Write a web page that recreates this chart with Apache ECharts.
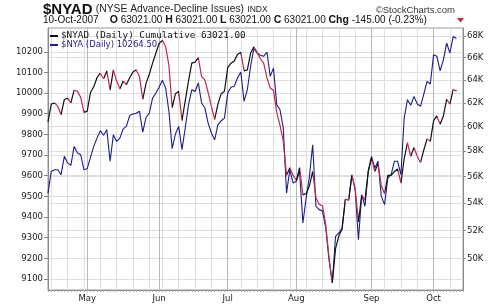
<!DOCTYPE html>
<html><head><meta charset="utf-8">
<script src="https://cdn.jsdelivr.net/npm/echarts@6/dist/echarts.min.js"></script>
<style>html,body{margin:0;padding:0;background:#fff}#c{width:500px;height:306px}</style>
</head><body><div id="c"></div>
<script>
// ---- data ----
const startDate = '2007-04-13';
const endDate = '2007-10-10';
const holidays = ['2007-05-28', '2007-07-04', '2007-09-03'];
const padDays = 2;
const monthNames = ['Jan','Feb','Mar','Apr','May','Jun','Jul','Aug','Sep','Oct','Nov','Dec'];

// $NYAD (Daily) Cumulative  (right axis, log)
const nyad = [
 60400,61900,62000,61700,61000,62300,62400,62000,63100,63000,
 62500,61200,61300,62900,63400,64200,64600,64100,64800,63100,
 64900,63900,63200,63900,63600,64200,64700,64900,64300,62300,
 63700,64500,65500,66400,67300,67600,67000,65300,61600,62800,
 63000,60500,62200,63900,65500,65600,66000,64300,64000,62900,
 61700,60600,61900,62800,63000,65100,65500,65700,66300,66500,
 64800,64900,66400,67000,66500,65900,65500,64200,63300,63100,
 61200,60100,58800,56100,56700,56100,55700,56700,54600,54700,
 55300,56400,54400,53900,53800,52400,50050,48350,50700,51600,
 52100,54300,54200,56100,55100,52600,54600,54200,56400,57500,
 56400,57000,55300,54700,56100,56100,56400,56600,55500,57400,
 58700,57600,58300,57600,57100,58100,59000,58800,60500,60900,
 60200,60900,62300,61900,63166,63021
];
// $NYA (Daily)  (left axis)
const nya = [
 9516,9621,9629,9629,9605,9694,9662,9650,9742,9710,
 9702,9629,9634,9689,9742,9782,9818,9796,9823,9670,
 9798,9766,9782,9827,9839,9892,9899,9902,9912,9811,
 9883,9903,9976,10000,10028,10062,10024,9912,9731,9802,
 9839,9726,9831,9944,10016,10008,10049,9952,9928,9855,
 9807,9774,9847,9866,9879,10000,10028,10033,10073,10102,
 9960,10016,10129,10215,10194,10183,10178,10199,10081,10121,
 9944,9919,9831,9516,9629,9565,9573,9621,9371,9492,
 9597,9750,9452,9436,9430,9347,9194,9081,9307,9323,
 9347,9484,9484,9605,9532,9290,9508,9452,9621,9694,
 9637,9670,9500,9460,9589,9605,9670,9670,9605,9879,
 9968,9941,9984,9947,9936,9995,10057,10044,10186,10178,
 10108,10161,10242,10194,10274,10264.5
];
const leftTicks = [9100,9200,9300,9400,9500,9600,9700,9800,9900,10000,10100,10200];
const rightTicks = [50000,52000,54000,56000,58000,60000,62000,64000,66000,68000];

// ---- trading-day categories ----
function tradingDays(){
  const out = [];
  const d = new Date(startDate + 'T00:00:00Z');
  const end = new Date(endDate + 'T00:00:00Z');
  while (d <= end) {
    const dow = d.getUTCDay();
    const s = d.toISOString().slice(0,10);
    if (dow !== 0 && dow !== 6 && holidays.indexOf(s) < 0) out.push(s);
    d.setUTCDate(d.getUTCDate() + 1);
  }
  return out;
}
const days = tradingDays();
const cats = days.concat(Array(padDays).fill(''));
function isMonthStart(i){
  if (i <= 0 || i >= days.length) return false;
  return days[i].slice(5,7) !== days[i-1].slice(5,7);
}
function isWeekStart(i){
  if (i <= 0 || i >= days.length) return false;
  const a = new Date(days[i] + 'T00:00:00Z').getUTCDay();
  const b = new Date(days[i-1] + 'T00:00:00Z').getUTCDay();
  return a < b;
}

// colour pieces for NYAD: black up, red down
const pieces = [];
for (let i = 0; i < nyad.length - 1; i++) {
  const col = nyad[i+1] < nyad[i] ? '#c0284a' : '#111111';
  const last = pieces[pieces.length-1];
  if (last && last.color === col) last.lt = i + 1;
  else pieces.push({gte: i, lt: i + 1, color: col});
}

const chart = echarts.init(document.getElementById('c'), null, {renderer:'canvas'});
const FONT = 'DejaVu Sans';
chart.setOption({
  animation: false,
  backgroundColor: '#fff',
  grid: {left: 48, right: 37, top: 28, bottom: 16, show: true, borderColor: '#9a9a9a', borderWidth: 1},
  xAxis: [{
    type: 'category', data: cats, boundaryGap: false,
    axisLine: {show: true, lineStyle: {color: '#8a8a8a'}},
    axisTick: {show: true, interval: 0, length: 2, lineStyle: {color: '#aaa'}},
    axisLabel: {interval: (i) => isMonthStart(i), formatter: (v) => v ? monthNames[+v.slice(5,7)-1] : '',
      fontSize: 8.5, fontFamily: FONT, color: '#222', margin: 4},
    splitLine: {show: true, interval: (i) => isWeekStart(i) && !isMonthStart(i), lineStyle: {color: '#dedede', width: 1}}
  }, {
    type: 'category', data: cats, boundaryGap: false, position: 'top',
    axisLine: {show: false}, axisTick: {show: false}, axisLabel: {show: false},
    splitLine: {show: true, interval: (i) => isMonthStart(i), lineStyle: {color: '#b8b8b8', width: 1}}
  }],
  yAxis: [{
    type: 'value', position: 'left', min: 9047, max: 10315, scale: true,
    axisLine: {show: true, lineStyle: {color: '#8a8a8a'}},
    axisTick: {show: true, length: 4, customValues: leftTicks, lineStyle: {color: '#888'}},
    axisLabel: {customValues: leftTicks, formatter: (v) => String(Math.round(v)), fontSize: 8.5, fontFamily: FONT, color: '#222', margin: 5},
    splitLine: {show: true, lineStyle: {color: '#dedede'}}
  }, {
    type: 'log', logBase: 10, position: 'right', min: 47887, max: 68760,
    axisLine: {show: true, lineStyle: {color: '#8a8a8a'}},
    axisTick: {show: true, length: 3, customValues: rightTicks, lineStyle: {color: '#888'}},
    axisLabel: {customValues: rightTicks, formatter: (v) => Math.round(v/1000) + 'K',
      fontSize: 8.5, fontFamily: FONT, color: '#222', margin: 4},
    splitLine: {show: true, lineStyle: {color: '#dedede'}}
  }],
  visualMap: {type: 'piecewise', show: false, seriesIndex: 0, dimension: 0, pieces: pieces, outOfRange: {color: '#111'}},
  series: [{
    name: '$NYAD', type: 'line', xAxisIndex: 0, yAxisIndex: 1, data: nyad.concat(Array(padDays).fill(null)),
    showSymbol: false, symbol: 'none', lineStyle: {width: 1.2}, z: 4
  }, {
    name: '$NYA', type: 'line', xAxisIndex: 0, yAxisIndex: 0, data: nya.concat(Array(padDays).fill(null)),
    showSymbol: false, symbol: 'none', itemStyle: {color: '#1c1c8c'}, lineStyle: {width: 1.1, color: '#1c1c8c'}, z: 3
  }],
  graphic: [
    {type: 'text', left: 43, top: 2, z: 10, style: {
      text: '{a|$NYAD} {b|(NYSE Advance-Decline Issues)} {c|INDX}',
      rich: {
        a: {fontFamily: 'Liberation Sans', fontWeight: 'bold', fontSize: 15, fill: '#111'},
        b: {fontFamily: 'Liberation Sans', fontSize: 10.3, fill: '#222'},
        c: {fontFamily: 'Liberation Sans', fontSize: 8.5, fill: '#222'}
      }}},
    {type: 'text', right: 45, top: 5, z: 10, style: {text: '©StockCharts.com', fontFamily: 'Liberation Sans', fontSize: 9.5, fill: '#333'}},
    {type: 'text', left: 43, top: 15, z: 10, style: {
      text: '10-Oct-2007    {b|O} 63021.00 {b|H} 63021.00 {b|L} 63021.00 {b|C} 63021.00 {b|Chg} -145.00 (-0.23%)',
      fontFamily: 'Liberation Sans', fontSize: 10, fill: '#111',
      rich: {b: {fontFamily: 'Liberation Sans', fontWeight: 'bold', fontSize: 10.5, fill: '#111'}}}},
    {type: 'polygon', z: 10, shape: {points: [[457, 18], [464, 18], [460.5, 22.5]]}, style: {fill: '#c0284a'}},
    {type: 'line', z: 10, shape: {x1: 50, y1: 36, x2: 58, y2: 36}, style: {stroke: '#111', lineWidth: 2}},
    {type: 'text', left: 61, top: 31, z: 10, style: {text: '$NYAD (Daily) Cumulative 63021.00', fontFamily: 'DejaVu Sans Mono', fontSize: 9.3, fill: '#111'}},
    {type: 'line', z: 10, shape: {x1: 50, y1: 45, x2: 58, y2: 45}, style: {stroke: '#1c1c8c', lineWidth: 2}},
    {type: 'text', left: 61, top: 40, z: 10, style: {text: '$NYA (Daily) 10264.50', fontFamily: 'DejaVu Sans', fontSize: 8.5, fill: '#1c1c8c'}}
  ]
});
</script>
</body></html>
